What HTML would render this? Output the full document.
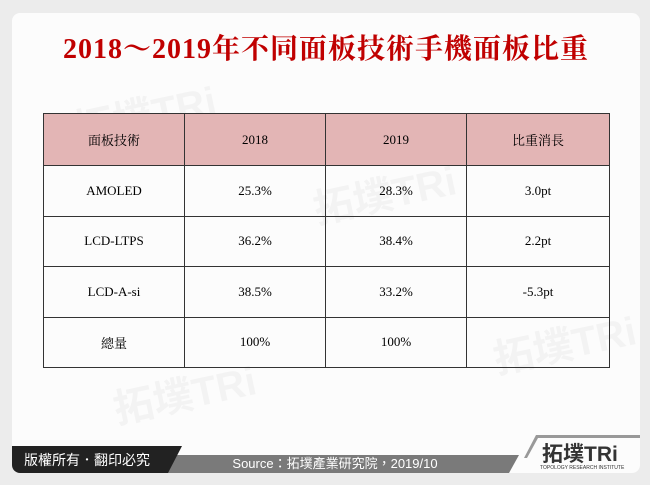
<!DOCTYPE html>
<html><head><meta charset="utf-8"><style>
body{margin:0;width:650px;height:485px;background:#ececec;position:relative;overflow:hidden;font-family:"Liberation Serif","Noto Serif CJK SC",serif}
#card{position:absolute;left:12px;top:13px;width:628px;height:460px;background:#fcfcfc;border-radius:8px;overflow:hidden}
#title{position:absolute;left:0;top:14px;width:628px;text-align:center;color:#c00000;font-weight:bold;font-size:28px;letter-spacing:1px}
table{position:absolute;left:31px;top:100px;border-collapse:collapse;font-size:13px}
td{border:1.5px solid #333;text-align:center;height:49.5px;padding:0}
tr.h td{background:#e3b5b5}
.wm{position:absolute;color:rgba(0,0,0,0.035);font:bold 40px "Liberation Sans","Noto Sans CJK TC",sans-serif;transform:rotate(-12deg)}
</style></head><body>
<div id="card">
<div class="wm" style="left:60px;top:70px">拓墣TRi</div>
<div class="wm" style="left:300px;top:150px">拓墣TRi</div>
<div class="wm" style="left:480px;top:300px">拓墣TRi</div>
<div class="wm" style="left:100px;top:350px">拓墣TRi</div>
<div id="title">2018～2019年不同面板技術手機面板比重</div>
<table>
<colgroup><col style="width:141px"><col style="width:141px"><col style="width:141px"><col style="width:143px"></colgroup>
<tr class="h"><td style="height:51px">面板技術</td><td>2018</td><td>2019</td><td>比重消長</td></tr>
<tr><td>AMOLED</td><td>25.3%</td><td>28.3%</td><td>3.0pt</td></tr>
<tr><td>LCD-LTPS</td><td>36.2%</td><td>38.4%</td><td>2.2pt</td></tr>
<tr><td>LCD-A-si</td><td>38.5%</td><td>33.2%</td><td>-5.3pt</td></tr>
<tr><td>總量</td><td>100%</td><td>100%</td><td></td></tr>
</table>
<svg style="position:absolute;left:0;top:400px" width="628" height="60">
<polygon points="512,45 524,22 628,22 628,25 526,25 515,45" fill="#999"/>
<polygon points="160,42 507,42 497,60 150,60" fill="#7a7a7a"/>
<polygon points="0,33 170,33 156,60 0,60" fill="#222"/>
<text x="12" y="52" fill="#fff" font-size="14" font-family="Liberation Sans,Noto Sans CJK TC,sans-serif">版權所有．翻印必究</text>
<text x="323" y="55" fill="#fff" font-size="13" text-anchor="middle" font-family="Liberation Sans,Noto Sans CJK TC,sans-serif">Source：拓墣產業研究院，2019/10</text>
<text x="530" y="48" fill="#333" font-size="21" font-weight="bold" font-family="Liberation Sans,Noto Sans CJK TC,sans-serif">拓墣TRi</text>
<text x="528" y="56" fill="#333" font-size="5" font-family="Liberation Sans,sans-serif">TOPOLOGY RESEARCH INSTITUTE</text>
</svg>
</div>
</body></html>
